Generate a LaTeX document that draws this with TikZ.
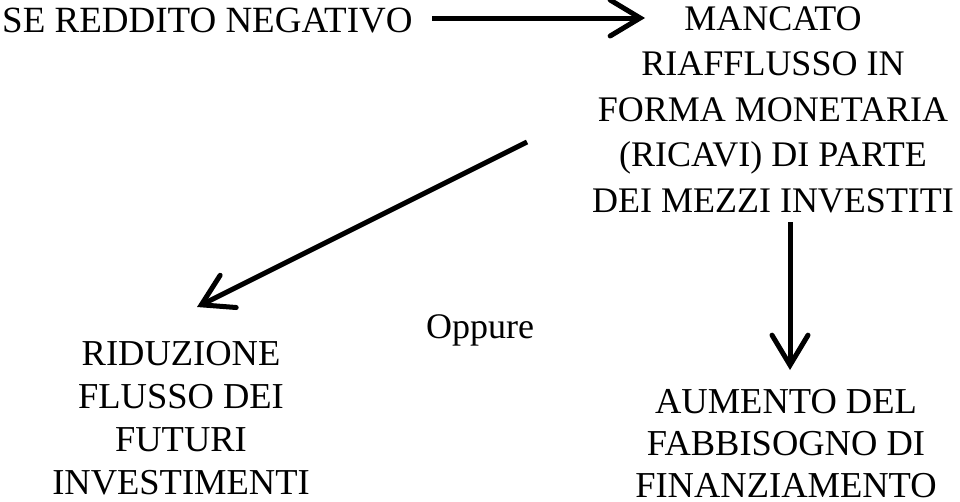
\documentclass[tikz,border=0pt]{standalone}
\usepackage{fontspec}
\setmainfont{Liberation Serif}
\usetikzlibrary{arrows.meta}
\begin{document}
\begin{tikzpicture}[x=1pt,y=-1pt,
  txt/.style={inner sep=0pt, align=center, font=\fontsize{36}{45.5}\selectfont},
  txtl/.style={inner sep=0pt, align=center, font=\fontsize{36.5}{43}\selectfont},
  txtb/.style={inner sep=0pt, align=center, font=\fontsize{36.5}{42}\selectfont},
  arr/.style={line width=5pt, -{Straight Barb[length=30pt,width=36pt,line cap=round]}}]
\useasboundingbox (0,0) rectangle (960,501);
\node[txt, anchor=base west, font=\fontsize{37}{45}\selectfont] (reddito) at (2,32) {SE REDDITO NEGATIVO};
\node[txt, anchor=north] (mancato) at (773,6) {MANCATO\\RIAFFLUSSO IN\\FORMA MONETARIA\\(RICAVI) DI PARTE\\DEI MEZZI INVESTITI};
\node[txtl, anchor=north] (riduzione) at (181,341) {RIDUZIONE\\FLUSSO DEI\\FUTURI\\INVESTIMENTI};
\node[txtb, anchor=north] (aumento) at (786,389) {AUMENTO DEL\\FABBISOGNO DI\\FINANZIAMENTO};
\node[txt, anchor=base] (oppure) at (480,338) {Oppure};
\coordinate (a1s) at (432,18);
\coordinate (a1e) at (645,18);
\coordinate (a2s) at (527,142);
\coordinate (a2e) at (197,307);
\coordinate (a3s) at (790,222);
\coordinate (a3e) at (790,370);
\draw[arr] (a1s) -- (a1e);
\draw[arr] (a2s) -- (a2e);
\draw[arr] (a3s) -- (a3e);
\end{tikzpicture}
\end{document}
